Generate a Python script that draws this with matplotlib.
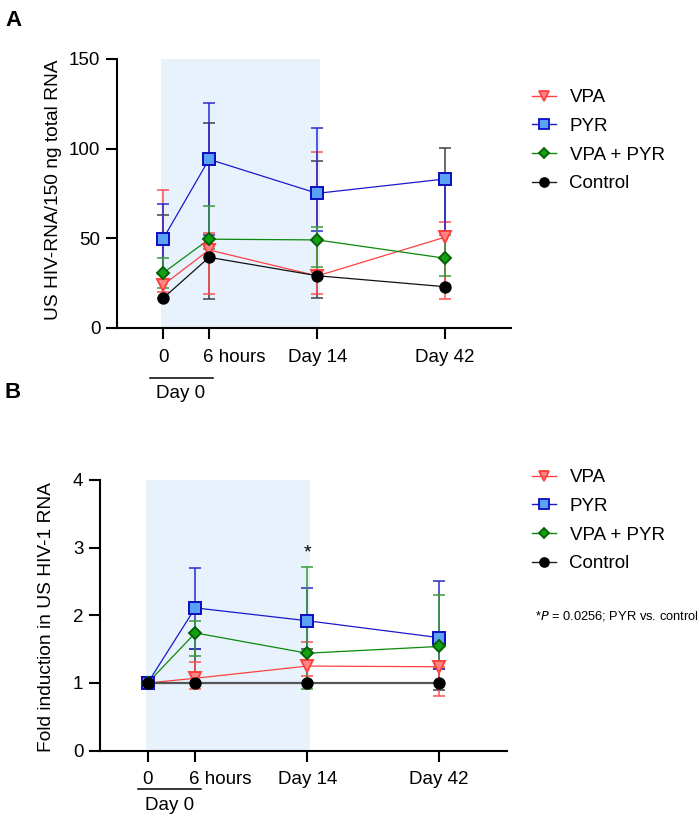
import numpy as np
import matplotlib.pyplot as plt
from matplotlib.transforms import ScaledTranslation

plt.rcParams['font.family'] = ['Liberation Sans', 'DejaVu Sans']

# x positions of the time points and their labels
positions = [0, 1, 3.35, 6.12]
xlabels = ['0', '6 hours', 'Day 14', 'Day 42']
series = ['VPA', 'PYR', 'VPA + PYR', 'Control']

# panel A: US HIV-RNA per 150 ng total RNA (mean, lower end, upper end)
vpa_a = [23.8, 43.4, 28.9, 50.5]
vpa_a_lo = [20, 18.6, 18.8, 16.2]
vpa_a_hi = [76.7, 53, 98, 59]
pyr_a = [49.5, 94, 75, 83]
pyr_a_lo = [30, 52, 54, 54]
pyr_a_hi = [69, 125.5, 111.4, 83]
combo_a = [30.5, 49.4, 49, 38.8]
combo_a_lo = [21.9, 44, 34, 28.9]
combo_a_hi = [39.1, 68, 56, 52]
ctrl_a = [16.4, 39.3, 29, 22.9]
ctrl_a_lo = [16.4, 16, 16.4, 22.9]
ctrl_a_hi = [63, 114, 93.3, 100.5]

# panel B: fold induction
vpa_b = [1, 1.07, 1.25, 1.24]
vpa_b_lo = [1, 0.91, 1.10, 0.81]
vpa_b_hi = [1, 1.31, 1.61, 1.24]
pyr_b = [1, 2.11, 1.92, 1.67]
pyr_b_lo = [1, 1.5, 1.44, 1.2]
pyr_b_hi = [1, 2.70, 2.40, 2.51]
combo_b = [1, 1.74, 1.44, 1.54]
combo_b_lo = [1, 1.40, 0.91, 1.3]
combo_b_hi = [1, 1.91, 2.71, 2.30]
ctrl_b = [1, 1, 1, 1]
ctrl_b_lo = [1, 1, 1, 0.90]
ctrl_b_hi = [1, 1.50, 1.50, 1.21]

# estilos: (linea, barra de error, marcador, relleno, borde, tamano)
estilos = {
    'VPA': ('#ff4040', '#ff5050', 'v', '#ff8585', '#ff4040', 9),
    'PYR': ('#1a1acc', '#2a2ad0', 's', '#5aa2f5', '#0d0dbf', 8.5),
    'VPA + PYR': ('#0a8a0a', '#3a9a3a', 'D', '#11a011', '#066006', 6.5),
    'Control': ('#202020', '#404040', 'o', 'black', 'black', 7.5),
}

fig = plt.figure(figsize=(7, 8.17), dpi=100)


def panel(rect, datos, ylim, yticks, span_right, ctrl_line):
    ax = fig.add_axes(rect)
    ax.axvspan(-0.04, span_right, ymin=0, ymax=1, color='#e7f2fd', zorder=0, lw=0)
    for k, (nombre, (m, lo, hi)) in enumerate(zip(series, datos)):
        lc, ec, mk, fc, edc, ms = estilos[nombre]
        lw = 0.9
        if nombre == 'Control':
            lc, lw = ctrl_line
        m = np.array(m); lo = np.array(lo); hi = np.array(hi)
        z = 2 if nombre == 'Control' else 3 + k * 0.1
        ax.errorbar(positions, m, yerr=[m - lo, hi - m], fmt='none',
                    ecolor=ec, elinewidth=1.1, capsize=4.5, capthick=1.1, zorder=z)
        ax.plot(positions, m, color=lc, lw=lw, zorder=4 + k * 0.1)
        ax.plot(positions, m, ls='none', marker=mk, ms=ms, mfc=fc, mec=edc,
                mew=1.4, zorder=5 + k * 0.1, label=nombre)
    ax.set_xlim(-1, 7.55)
    ax.set_ylim(*ylim)
    ax.set_yticks(yticks)
    ax.set_xticks(positions)
    ax.set_xticklabels(xlabels)
    for s in ['top', 'right']:
        ax.spines[s].set_visible(False)
    for s in ['left', 'bottom']:
        ax.spines[s].set_linewidth(1.5)
    ax.tick_params(axis='both', length=8, width=1.5, labelsize=13.5, pad=4)
    ax.tick_params(axis='x', pad=7)
    lbl = ax.get_xticklabels()[1]
    lbl.set_ha('left')
    lbl.set_transform(lbl.get_transform() + ScaledTranslation(-6 / 100, 0, fig.dpi_scale_trans))
    return ax


ax1 = panel([0.1671, 0.5989, 0.5624, 0.3289],
            [(vpa_a, vpa_a_lo, vpa_a_hi), (pyr_a, pyr_a_lo, pyr_a_hi),
             (combo_a, combo_a_lo, combo_a_hi), (ctrl_a, ctrl_a_lo, ctrl_a_hi)],
            (0, 150), [0, 50, 100, 150], 3.4, ('#111111', 0.9))
ax2 = panel([0.1429, 0.0812, 0.5819, 0.3313],
            [(vpa_b, vpa_b_lo, vpa_b_hi), (pyr_b, pyr_b_lo, pyr_b_hi),
             (combo_b, combo_b_lo, combo_b_hi), (ctrl_b, ctrl_b_lo, ctrl_b_hi)],
            (0, 4), [0, 1, 2, 3, 4], 3.4, ('#555555', 1.6))

# etiquetas de eje y
fig.text(53 / 700, 1 - 190 / 817, 'US HIV-RNA/150 ng total RNA', rotation=90,
         ha='center', va='center', fontsize=13.8)
fig.text(47 / 700, 1 - 617 / 817, 'Fold induction in US HIV-1 RNA', rotation=90,
         ha='center', va='center', fontsize=13.8)

# "Day 0" con linea
fig.add_artist(plt.Line2D([150 / 700, 213 / 700], [1 - 378 / 817] * 2, color='black', lw=1.1))
fig.text(181 / 700, 1 - 394 / 817, 'Day 0', ha='center', va='center', fontsize=13.5)
fig.add_artist(plt.Line2D([138 / 700, 201 / 700], [1 - 789 / 817] * 2, color='black', lw=1.1))
fig.text(170 / 700, 1 - 806 / 817, 'Day 0', ha='center', va='center', fontsize=13.5)

# letras de panel
fig.text(5 / 700, 1 - 20 / 817, 'A', ha='left', va='center', fontsize=16, fontweight='bold')
fig.text(5 / 700, 1 - 392 / 817, 'B', ha='left', va='center', fontsize=16, fontweight='bold')

# asterisco en Day 14
ax2.text(positions[2], 2.92, '*', ha='center', va='center', fontsize=14)

# leyendas
for ax, ytop in [(ax1, 89), (ax2, 469)]:
    ax.legend(handles=[plt.Line2D([], [], color=estilos[n][0], lw=1, marker=estilos[n][2],
                                  ms=estilos[n][5] * 0.85, mfc=estilos[n][3], mec=estilos[n][4],
                                  mew=1.3) for n in series],
              labels=series, loc='upper left', bbox_to_anchor=(532 / 700, 1 - ytop / 817),
              bbox_transform=fig.transFigure, frameon=False, fontsize=13.5,
              handlelength=1.3, handletextpad=0.7, labelspacing=0.62, borderpad=0,
              borderaxespad=0)

fig.text(535 / 700, 1 - 616 / 817, r'*$\it{P}$ = 0.0256; PYR vs. control', ha='left',
         va='center', fontsize=9.3)

fig.savefig('out.png', dpi=100)
